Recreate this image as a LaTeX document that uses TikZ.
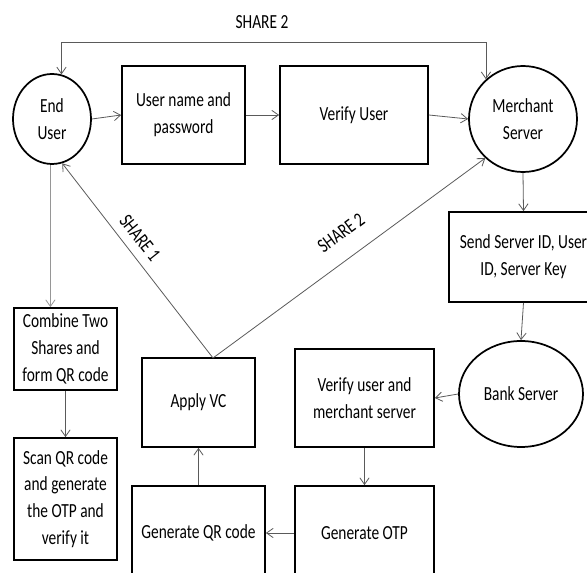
\documentclass[tikz,border=0pt]{standalone}
\usepackage{fontspec}
\setmainfont{Carlito}[FakeStretch=0.77]
\usetikzlibrary{arrows.meta,calc,shapes.geometric}

\begin{document}
\begin{tikzpicture}[x=0.75pt,y=0.75pt,yscale=-1,xscale=1,
    box/.style={draw,line width=1.3pt,align=center,inner sep=1pt,font=\fontsize{15}{20}\selectfont},
    oval/.style={draw,ellipse,line width=1.3pt,align=center,inner sep=0pt,font=\fontsize{15}{20}\selectfont},
    conn/.style={draw={rgb,255:red,90;green,90;blue,90},line width=0.6pt,-{Straight Barb[length=5pt,width=7pt]}},
    lbl/.style={font=\fontsize{15}{20}\selectfont,inner sep=0.75pt}]
    \useasboundingbox (0,0) rectangle (587,573);
    
    %Shape: Ellipse
    \node (endu) [oval,minimum width=58.5pt,minimum height=67.5pt] at (52,119) {End\\User};
    %Shape: Rectangle
    \node (uname) [box,minimum width=92.25pt,minimum height=73.5pt] at (183.5,115) {User name and\\password};
    %Shape: Rectangle
    \node (vuser) [box,minimum width=111pt,minimum height=73.5pt] at (354,115) {Verify User};
    %Shape: Ellipse
    \node (merch) [oval,minimum width=81pt,minimum height=79.5pt] at (523,119) {Merchant\\Server};
    %Shape: Rectangle
    \node (send) [box,minimum width=111.75pt,minimum height=67.5pt] at (523.5,257) {Send Server ID, User\\ID, Server Key};
    %Shape: Ellipse
    \node (bank) [oval,minimum width=93pt,minimum height=79.5pt] at (521,394) {Bank Server};
    %Shape: Rectangle
    \node (vum) [box,minimum width=104.25pt,minimum height=73.5pt] at (364.5,398) {Verify user and\\merchant server};
    %Shape: Rectangle
    \node (otp) [box,minimum width=104.25pt,minimum height=70.5pt] at (364.5,533) {Generate OTP};
    %Shape: Rectangle
    \node (gqr) [box,minimum width=99.75pt,minimum height=70pt] at (198.5,533) {Generate QR code};
    %Shape: Rectangle
    \node (avc) [box,minimum width=84.75pt,minimum height=66.75pt] at (198.5,402.5) {Apply VC};
    %Shape: Rectangle
    \node (comb) [box,minimum width=77.25pt,minimum height=61.5pt] at (65.5,349) {Combine Two\\Shares and\\form QR code};
    %Shape: Rectangle
    \node (scan) [box,minimum width=77.25pt,minimum height=91.5pt] at (65.5,499) {Scan QR code\\and generate\\the OTP and\\verify it};
    
    \coordinate (top) at (300,42);
    \coordinate (apex) at (213,358);
    
    %Straight Lines
    \draw [conn] (endu.east) -- (uname.west);
    \draw [conn] (uname.east) -- (vuser.west);
    \draw [conn] (vuser.east) -- (merch.west);
    %Straight Lines
    \draw [conn,{Straight Barb[length=5pt,width=7pt]}-{Straight Barb[length=5pt,width=7pt]}] (endu.78) -- (endu.78 |- top) -- (merch.133 |- top) -- (merch.133);
    \draw [conn] (merch.south) -- (send.north);
    \draw [conn] (send.south) -- (bank.north);
    \draw [conn] (bank.west) -- (vum.east);
    \draw [conn] (vum.south) -- (otp.north);
    \draw [conn] (otp.west) -- (gqr.east);
    \draw [conn] (gqr.north) -- (avc.south);
    %Straight Lines
    \draw [conn] (apex) -- (endu.-77);
    \draw [conn] (apex) -- (merch.226);
    \draw [conn,draw={rgb,255:red,150;green,150;blue,150}] (endu.268) -- (endu.268 |- comb.north);
    \draw [conn] (comb.south) -- (scan.north);
    
    % Text Node
    \node (s2top) [lbl] at (262,22) {SHARE 2};
    % Text Node
    \node (s1) [lbl,rotate=-51.5] at (140,238) {SHARE 1};
    % Text Node
    \node (s2mid) [lbl,rotate=36.3] at (341,233) {SHARE 2};
\end{tikzpicture}
\end{document}
